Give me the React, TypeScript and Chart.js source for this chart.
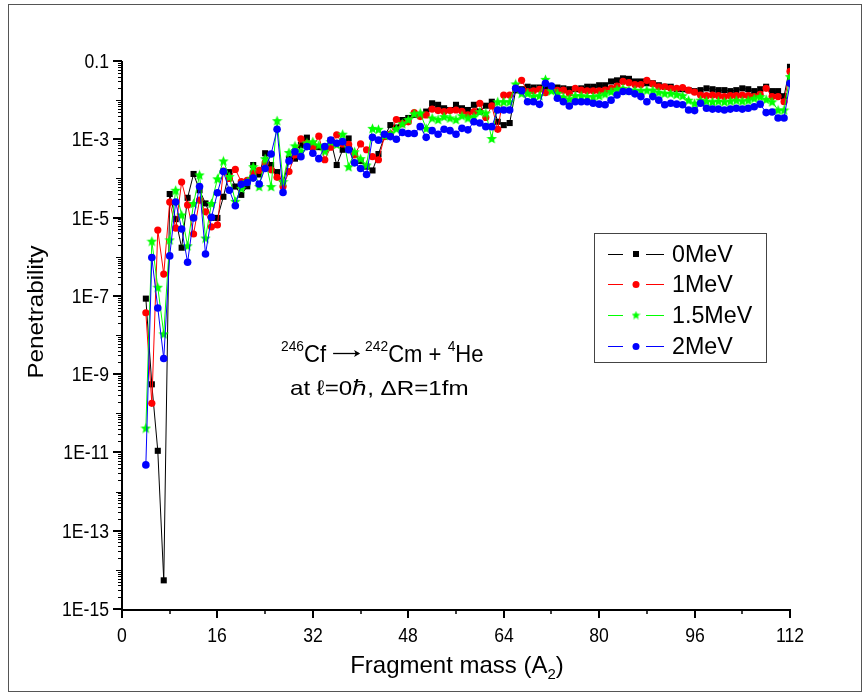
import React, { useEffect, useRef } from "react";
import { Chart, registerables } from "chart.js";
Chart.register(...registerables);

// Fragment mass numbers A2
const massNumbers = [
  4, 5, 6, 7, 8, 9, 10, 11, 12, 13, 14, 15, 16, 17, 18, 19, 20, 21, 22, 23,
  24, 25, 26, 27, 28, 29, 30, 31, 32, 33, 34, 35, 36, 37, 38, 39, 40, 41, 42, 43,
  44, 45, 46, 47, 48, 49, 50, 51, 52, 53, 54, 55, 56, 57, 58, 59, 60, 61, 62, 63,
  64, 65, 66, 67, 68, 69, 70, 71, 72, 73, 74, 75, 76, 77, 78, 79, 80, 81, 82, 83,
  84, 85, 86, 87, 88, 89, 90, 91, 92, 93, 94, 95, 96, 97, 98, 99, 100, 101, 102, 103,
  104, 105, 106, 107, 108, 109, 110, 111, 112,
];

const pen0MeV = [
  8.5e-8, 5.5e-10, 1.1e-11, 5.4e-15, 4.0e-5, 9.1e-6, 1.7e-6, 3.2e-5, 1.3e-4, 5.0e-5,
  2.3e-5, 9.8e-6, 9.8e-6, 3.4e-5, 1.45e-4, 6.2e-5, 3.8e-5, 6.3e-5, 2.2e-4, 1.26e-4,
  4.4e-4, 2.2e-4, 1.45e-4, 7.4e-5, 3.2e-4, 3.2e-4, 7.1e-4, 1.1e-3, 6.5e-4, 6.3e-4,
  5.5e-4, 9.5e-4, 2.2e-4, 5.4e-4, 1.05e-3, 4.0e-4, 2.8e-4, 2.0e-4, 1.6e-4, 4.2e-4,
  1.17e-3, 2.3e-3, 2.0e-3, 3.1e-3, 3.5e-3, 4.2e-3, 4.2e-3, 5.1e-3, 8.3e-3, 7.6e-3,
  6.2e-3, 5.6e-3, 7.6e-3, 6.2e-3, 5.6e-3, 7.6e-3, 5.1e-3, 7.2e-3, 9.1e-3, 2.8e-3,
  2.3e-3, 2.6e-3, 1.78e-2, 1.9e-2, 2.2e-2, 2.1e-2, 2.1e-2, 2.1e-2, 2.1e-2, 2.1e-2,
  2.0e-2, 1.9e-2, 1.9e-2, 2.0e-2, 2.2e-2, 2.2e-2, 2.4e-2, 2.4e-2, 3.0e-2, 3.2e-2,
  3.6e-2, 3.5e-2, 3.0e-2, 3.0e-2, 2.7e-2, 2.7e-2, 2.4e-2, 2.2e-2, 2.2e-2, 1.9e-2,
  1.9e-2, 1.8e-2, 1.7e-2, 1.8e-2, 2.0e-2, 1.9e-2, 1.8e-2, 1.8e-2, 1.7e-2, 1.8e-2,
  2.0e-2, 1.9e-2, 1.7e-2, 1.9e-2, 2.2e-2, 1.7e-2, 1.7e-2, 1.26e-2, 7.1e-2,
];

const pen1MeV = [
  3.7e-8, 1.8e-10, 4.8e-6, 3.6e-7, 2.5e-5, 5.4e-6, 8.1e-5, 2.1e-5, 3.8e-6, 2.8e-5,
  1.4e-5, 5.8e-6, 6.5e-6, 1.55e-4, 1.0e-4, 1.7e-4, 8.3e-5, 8.9e-5, 1.4e-4, 1.6e-4,
  2.5e-4, 1.66e-4, 1.07e-4, 6.2e-5, 1.5e-4, 4.0e-4, 1.02e-3, 7.9e-4, 6.2e-4, 1.2e-3,
  3.0e-4, 6.3e-4, 1.3e-3, 7.6e-4, 7.4e-4, 4.0e-4, 7.6e-4, 5.4e-4, 3.6e-4, 3.0e-4,
  1.17e-3, 1.35e-3, 3.2e-3, 2.5e-3, 2.8e-3, 4.8e-3, 3.8e-3, 4.2e-3, 5.9e-3, 5.4e-3,
  5.1e-3, 5.4e-3, 5.6e-3, 5.2e-3, 4.2e-3, 5.1e-3, 8.3e-3, 3.6e-3, 7.1e-3, 1.8e-3,
  1.35e-2, 1.35e-2, 2.0e-2, 3.2e-2, 1.66e-2, 1.74e-2, 1.9e-2, 1.55e-2, 2.0e-2, 1.78e-2,
  1.8e-2, 1.5e-2, 2.0e-2, 1.8e-2, 1.74e-2, 1.74e-2, 1.74e-2, 1.8e-2, 2.0e-2, 2.3e-2,
  3.0e-2, 2.8e-2, 2.5e-2, 2.5e-2, 3.2e-2, 2.6e-2, 2.2e-2, 2.2e-2, 2.0e-2, 2.0e-2,
  2.1e-2, 1.8e-2, 1.6e-2, 1.35e-2, 1.3e-2, 1.35e-2, 1.3e-2, 1.23e-2, 1.3e-2, 1.3e-2,
  1.35e-2, 1.3e-2, 1.23e-2, 1.4e-2, 2.0e-2, 1.23e-2, 1.23e-2, 9.1e-3, 5.4e-2,
];

const pen15MeV = [
  4.2e-11, 2.5e-6, 1.66e-7, 1.07e-8, 2.7e-6, 5.0e-5, 1.17e-5, 1.9e-6, 2.3e-5, 1.23e-4,
  3.0e-6, 2.3e-5, 9.8e-5, 2.8e-4, 1.12e-4, 2.6e-5, 5.6e-5, 8.3e-5, 2.0e-4, 6.2e-5,
  3.2e-4, 6.2e-5, 3.0e-3, 8.3e-5, 4.6e-4, 6.8e-4, 5.0e-4, 8.1e-4, 8.7e-4, 7.1e-4,
  5.0e-4, 8.7e-4, 7.4e-4, 1.35e-3, 2.0e-4, 4.8e-4, 3.2e-4, 2.2e-4, 1.9e-3, 1.8e-3,
  1.26e-3, 1.4e-3, 1.86e-3, 2.5e-3, 3.2e-3, 4.5e-3, 4.7e-3, 1.9e-3, 3.5e-3, 3.2e-3,
  3.8e-3, 3.5e-3, 3.2e-3, 4.0e-3, 3.5e-3, 3.8e-3, 5.1e-3, 4.7e-3, 1.05e-3, 9.1e-3,
  9.1e-3, 9.1e-3, 2.6e-2, 1.5e-2, 1.5e-2, 1.26e-2, 1.3e-2, 3.4e-2, 1.74e-2, 1.5e-2,
  1.2e-2, 1.07e-2, 1.3e-2, 1.3e-2, 1.23e-2, 1.23e-2, 1.3e-2, 1.45e-2, 1.66e-2, 1.9e-2,
  2.0e-2, 1.8e-2, 1.8e-2, 1.74e-2, 1.8e-2, 1.8e-2, 1.6e-2, 1.5e-2, 1.5e-2, 1.4e-2,
  1.3e-2, 1.0e-2, 8.3e-3, 1.0e-2, 9.5e-3, 9.1e-3, 9.5e-3, 9.1e-3, 9.5e-3, 1.0e-2,
  9.5e-3, 1.0e-2, 1.12e-2, 1.23e-2, 1.05e-2, 9.1e-3, 5.6e-3, 5.6e-3, 4.0e-2,
];

const pen2MeV = [
  4.8e-12, 9.5e-7, 4.9e-8, 2.5e-9, 1.05e-6, 2.5e-5, 5.1e-6, 7.2e-7, 9.8e-6, 6.2e-5,
  1.17e-6, 1.02e-5, 4.3e-5, 1.5e-4, 5.0e-5, 2.0e-5, 7.1e-5, 7.9e-5, 1.02e-4, 7.2e-5,
  1.8e-4, 4.2e-4, 1.8e-3, 4.4e-5, 2.8e-4, 4.8e-4, 3.6e-4, 6.5e-4, 4.4e-4, 3.2e-4,
  6.5e-4, 9.5e-4, 7.9e-4, 8.7e-4, 5.4e-4, 2.5e-4, 1.8e-4, 1.26e-4, 1.12e-3, 9.5e-4,
  1.35e-3, 1.17e-3, 1.0e-3, 1.5e-3, 1.4e-3, 1.4e-3, 2.1e-3, 1.12e-3, 1.66e-3, 1.35e-3,
  1.8e-3, 1.66e-3, 1.35e-3, 1.9e-3, 1.74e-3, 2.8e-3, 2.6e-3, 2.1e-3, 2.1e-3, 5.6e-3,
  5.6e-3, 5.6e-3, 2.0e-2, 1.74e-2, 9.1e-3, 9.1e-3, 7.8e-3, 2.7e-2, 2.3e-2, 1.12e-2,
  9.1e-3, 7.1e-3, 9.1e-3, 9.1e-3, 9.1e-3, 8.3e-3, 7.9e-3, 7.6e-3, 1.0e-2, 1.35e-2,
  1.66e-2, 1.66e-2, 1.45e-2, 1.23e-2, 9.1e-3, 1.23e-2, 1.0e-2, 7.6e-3, 8.3e-3, 7.9e-3,
  7.6e-3, 5.6e-3, 5.4e-3, 8.3e-3, 6.2e-3, 5.9e-3, 5.9e-3, 5.6e-3, 5.9e-3, 6.2e-3,
  5.9e-3, 6.2e-3, 6.8e-3, 7.9e-3, 4.8e-3, 5.0e-3, 3.5e-3, 3.5e-3, 2.7e-2,
];

const seriesLabels = ["0MeV", "1MeV", "1.5MeV", "2MeV"];
const seriesColors = ["#000000", "#ff0000", "#00ff00", "#0000ff"];

const xTickValues = [0, 16, 32, 48, 64, 80, 96, 112];
const xMinorTickValues = [8, 24, 40, 56, 72, 88, 104];
const yTickValues = [1e-15, 1e-13, 1e-11, 1e-9, 1e-7, 1e-5, 1e-3, 0.1];
const yTickLabels = ["1E-15", "1E-13", "1E-11", "1E-9", "1E-7", "1E-5", "1E-3", "0.1"];

const FONT = '"Liberation Sans", Arial, Helvetica, sans-serif';
const SX = 0.88; // horizontal squeeze of tick text, as in the reference

function makeStar(size: number, color: string): HTMLCanvasElement {
  const c = document.createElement("canvas");
  c.width = size;
  c.height = size;
  const g = c.getContext("2d")!;
  const cx = size / 2;
  const cy = size / 2 + 0.5;
  const R = size / 2;
  const r = R * 0.45;
  g.beginPath();
  for (let i = 0; i < 10; i++) {
    const ang = -Math.PI / 2 + (i * Math.PI) / 5;
    const rad = i % 2 === 0 ? R : r;
    g.lineTo(cx + rad * Math.cos(ang), cy + rad * Math.sin(ang));
  }
  g.closePath();
  g.fillStyle = color;
  g.fill();
  return c;
}

// draw text squeezed horizontally, anchored at x with given alignment
function squeezedText(
  ctx: CanvasRenderingContext2D,
  txt: string,
  x: number,
  y: number,
  size: number,
  align: "left" | "center" | "right",
  sx = SX
): number {
  ctx.save();
  ctx.font = `${size}px ${FONT}`;
  const w = ctx.measureText(txt).width * sx;
  let x0 = x;
  if (align === "center") x0 = x - w / 2;
  if (align === "right") x0 = x - w;
  ctx.translate(x0, y);
  ctx.scale(sx, 1);
  ctx.textAlign = "left";
  ctx.fillText(txt, 0, 0);
  ctx.restore();
  return w;
}

export default function App() {
  const canvasRef = useRef<HTMLCanvasElement | null>(null);

  useEffect(() => {
    const canvas = canvasRef.current;
    if (!canvas) return;
    const star = makeStar(11, seriesColors[2]);
    const legendStar = makeStar(9, seriesColors[2]);

    const seriesValues = [pen0MeV, pen1MeV, pen15MeV, pen2MeV];
    const pointStyles: any[] = ["rect", "circle", star, "circle"];
    const pointRadii = [4.3, 3.6, 5, 3.8];

    const datasets = seriesValues.map((vals, k) => ({
      label: seriesLabels[k],
      data: massNumbers.map((a, i) => ({ x: a, y: vals[i] })),
      borderColor: seriesColors[k],
      backgroundColor: seriesColors[k],
      pointBackgroundColor: seriesColors[k],
      pointBorderColor: seriesColors[k],
      pointBorderWidth: 0,
      borderWidth: 1,
      pointStyle: pointStyles[k],
      pointRadius: pointRadii[k],
      tension: 0,
      order: 3 - k,
    }));

    const decor = {
      id: "decor",
      afterDraw(chart: any) {
        const ctx: CanvasRenderingContext2D = chart.ctx;
        const xs = chart.scales.x;
        const ys = chart.scales.y;
        const left = chart.chartArea.left;
        const bottom = chart.chartArea.bottom;
        const top = chart.chartArea.top;
        const right = chart.chartArea.right;
        ctx.save();
        ctx.strokeStyle = "#000";
        ctx.fillStyle = "#000";

        // outer frame
        ctx.lineWidth = 1;
        ctx.strokeStyle = "#555";
        ctx.strokeRect(8.5, 4.5, 853, 687);
        ctx.strokeStyle = "#000";

        // axes
        ctx.lineWidth = 2;
        ctx.beginPath();
        ctx.moveTo(left, top);
        ctx.lineTo(left, bottom + 1);
        ctx.lineTo(right, bottom + 1);
        ctx.stroke();

        // x ticks + labels
        ctx.textBaseline = "middle";
        xTickValues.forEach((v) => {
          const px = Math.round(xs.getPixelForValue(v));
          ctx.beginPath();
          ctx.moveTo(px, bottom);
          ctx.lineTo(px, bottom + 9);
          ctx.stroke();
          squeezedText(ctx, String(v), px, 636, 20, "center");
        });
        ctx.lineWidth = 1.5;
        xMinorTickValues.forEach((v) => {
          const px = Math.round(xs.getPixelForValue(v));
          ctx.beginPath();
          ctx.moveTo(px, bottom);
          ctx.lineTo(px, bottom + 5);
          ctx.stroke();
        });

        // y ticks + labels
        ctx.lineWidth = 2;
        yTickValues.forEach((v, i) => {
          const py = Math.round(ys.getPixelForValue(v));
          ctx.beginPath();
          ctx.moveTo(left, py);
          ctx.lineTo(left - 9, py);
          ctx.stroke();
          squeezedText(ctx, yTickLabels[i], 109, py + 1, 20, "right");
        });
        ctx.textBaseline = "alphabetic";
        ctx.lineWidth = 1;
        for (let e = -15; e < -1; e++) {
          for (let m = 1; m <= 9; m++) {
            const v = m * Math.pow(10, e);
            if (m === 1 && yTickValues.some((t) => Math.abs(Math.log10(t) - e) < 1e-6)) continue;
            const py = Math.round(ys.getPixelForValue(v)) + 0.5;
            ctx.beginPath();
            ctx.moveTo(left, py);
            ctx.lineTo(left - (m === 1 ? 6 : 4), py);
            ctx.stroke();
          }
        }

        // y title
        ctx.save();
        ctx.translate(43, 312);
        ctx.rotate(-Math.PI / 2);
        ctx.font = `22px ${FONT}`;
        const tw = ctx.measureText("Penetrability").width;
        ctx.scale(1.1, 1);
        ctx.textAlign = "left";
        ctx.fillText("Penetrability", -tw / 2, 0);
        ctx.restore();

        // x title
        const t1 = "Fragment mass (A";
        const by = 673;
        ctx.font = `24px ${FONT}`;
        const w1 = ctx.measureText(t1).width;
        ctx.font = `15px ${FONT}`;
        const w2 = ctx.measureText("2").width;
        ctx.font = `24px ${FONT}`;
        const w3 = ctx.measureText(")").width;
        let x0 = 457 - (w1 + w2 + w3) / 2;
        x0 += squeezedText(ctx, t1, x0, by, 24, "left", 1);
        x0 += squeezedText(ctx, "2", x0, by + 6, 15, "left", 1);
        squeezedText(ctx, ")", x0, by, 24, "left", 1);

        // annotation
        let ax = 281;
        const ay = 362;
        const sq = 0.92;
        ax += squeezedText(ctx, "246", ax, ay - 11, 15, "left", sq);
        ax += squeezedText(ctx, "Cf", ax, ay, 24, "left", sq);
        ax += 7;
        // arrow
        ctx.lineWidth = 1.3;
        ctx.beginPath();
        ctx.moveTo(ax, ay - 8.5);
        ctx.lineTo(ax + 26, ay - 8.5);
        ctx.stroke();
        ctx.beginPath();
        ctx.moveTo(ax + 27, ay - 8.5);
        ctx.lineTo(ax + 21, ay - 12);
        ctx.lineTo(ax + 22.5, ay - 8.5);
        ctx.lineTo(ax + 21, ay - 5);
        ctx.closePath();
        ctx.fill();
        ax += 27 + 5;
        ax += squeezedText(ctx, "242", ax, ay - 11, 15, "left", sq);
        ax += squeezedText(ctx, "Cm + ", ax, ay, 24, "left", sq);
        ax += squeezedText(ctx, "4", ax, ay - 11, 15, "left", sq);
        squeezedText(ctx, "He", ax, ay, 24, "left", sq);

        squeezedText(ctx, "at \u2113=0\u210F, \u0394R=1fm", 290, 395, 21, "left", 1.15);

        // legend
        ctx.lineWidth = 1;
        ctx.strokeStyle = "#444";
        ctx.strokeRect(594.5, 233.5, 172, 129);
        const rows = [254, 284, 315, 346];
        rows.forEach((ry, k) => {
          ctx.strokeStyle = seriesColors[k];
          ctx.fillStyle = seriesColors[k];
          ctx.lineWidth = 1;
          ctx.beginPath();
          ctx.moveTo(608, ry + 0.5);
          ctx.lineTo(623, ry + 0.5);
          ctx.moveTo(646, ry + 0.5);
          ctx.lineTo(664, ry + 0.5);
          ctx.stroke();
          const mx = 636;
          if (k === 0) {
            ctx.fillRect(mx - 3, ry - 3, 6, 6);
          } else if (k === 2) {
            ctx.drawImage(legendStar, mx - 4.5, ry - 4.5);
          } else {
            ctx.beginPath();
            ctx.arc(mx, ry + 0.5, 3.5, 0, Math.PI * 2);
            ctx.fill();
          }
          ctx.fillStyle = "#000";
          ctx.textBaseline = "middle";
          squeezedText(ctx, seriesLabels[k], 672, ry + 1, 24, "left", 0.97);
          ctx.textBaseline = "alphabetic";
        });
        ctx.restore();
      },
    };

    const chart = new Chart(canvas, {
      type: "line",
      data: { datasets: datasets as any },
      options: {
        animation: false,
        responsive: false,
        maintainAspectRatio: false,
        devicePixelRatio: 1,
        layout: { padding: { left: 0, right: 78, top: 61, bottom: 0 } },
        plugins: { legend: { display: false }, tooltip: { enabled: false } },
        scales: {
          x: {
            type: "linear",
            min: 0,
            max: 112,
            grid: { display: false },
            border: { display: false },
            afterBuildTicks: (s: any) => {
              s.ticks = xTickValues.map((v) => ({ value: v }));
            },
            afterFit: (s: any) => {
              s.height = 87;
            },
            ticks: { display: false },
          },
          y: {
            type: "logarithmic",
            min: 1e-15,
            max: 0.1,
            grid: { display: false },
            border: { display: false },
            afterBuildTicks: (s: any) => {
              s.ticks = yTickValues.map((v) => ({ value: v }));
            },
            afterFit: (s: any) => {
              s.width = 122;
            },
            ticks: { display: false },
          },
        },
      },
      plugins: [decor],
    });
    return () => chart.destroy();
  }, []);

  return (
    <div style={{ position: "absolute", left: 0, top: 0, width: 868, height: 696, background: "#fff" }}>
      <canvas ref={canvasRef} width={868} height={696} style={{ display: "block" }} />
    </div>
  );
}
